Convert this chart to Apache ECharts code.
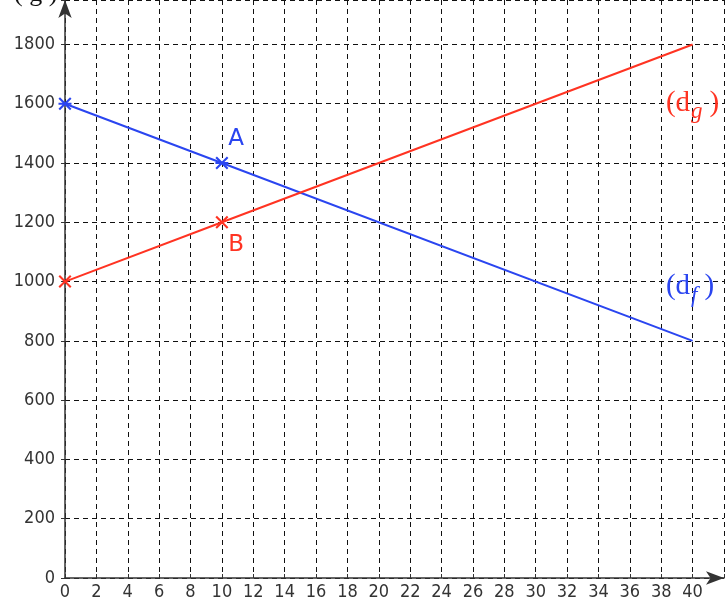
<!DOCTYPE html>
<html><head><meta charset="utf-8">
<script src="https://cdn.jsdelivr.net/npm/echarts@6/dist/echarts.min.js"></script>
<style>html,body{margin:0;padding:0;background:#fff}#c{width:727px;height:602px}</style>
</head><body><div id="c"></div>
<script>
// data
const xTicksMax = 40;
const yTicksMax = 1800;
const lineF = [[0, 1600], [10, 1400], [40, 800]];   // (d_f) blue
const lineG = [[0, 1000], [10, 1200], [40, 1800]];  // (d_g) red
const markedF = [true, true, false];
const markedG = [true, true, false];
const pointLabels = [
  {name: 'A', x: 10.9, y: 1480, color: '#2a45f0'},
  {name: 'B', x: 10.9, y: 1122, color: '#ff3322'}
];
const lineLabels = [
  {name: 'g', x: 38.3, y: 1601, color: '#ff3322'},
  {name: 'f', x: 38.3, y: 983, color: '#2a45f0'}
];
const yAxisTitle = '( g )';

const BLUE = '#2a45f0', RED = '#ff3322';
const xShape = 'path://M0.64,-0.64 L10.64,9.36 L9.36,10.64 L-0.64,0.64 Z M10.64,0.64 L0.64,10.64 L-0.64,9.36 L9.36,-0.64 Z';
const starShape = xShape + ' M-0.64,4.1 L10.64,4.1 L10.64,5.9 L-0.64,5.9 Z';
const LABEL_FONT = '"DejaVu Sans Condensed", "DejaVu Sans", sans-serif';

function mk(data, marked, sym) {
  return data.map((p, i) => ({value: p, symbol: marked[i] ? sym : 'none', symbolSize: 13}));
}

const chart = echarts.init(document.getElementById('c'));
chart.setOption({
  animation: false,
  grid: {left: 65, right: 0, top: 0, bottom: 24, containLabel: false},
  xAxis: {
    type: 'value', min: 0, max: 42, interval: 2,
    axisLine: {show: true, symbol: ['none', 'arrow'], symbolSize: [10, 18], lineStyle: {color: '#333', width: 1.5}},
    axisTick: {show: true, inside: true, length: 4, lineStyle: {color: '#333'}},
    axisLabel: {color: '#333', fontSize: 18, fontFamily: LABEL_FONT, margin: 5,
      formatter: v => (v <= xTicksMax ? String(v) : '')},
    splitLine: {show: true, lineStyle: {color: '#111', type: [5, 4], width: 1}}
  },
  yAxis: {
    type: 'value', min: 0, max: 1950, interval: 200,
    axisLine: {show: true, symbol: ['none', 'arrow'], symbolSize: [10, 18], lineStyle: {color: '#333', width: 1.5}},
    axisTick: {show: true, inside: false, length: 4, lineStyle: {color: '#333'}},
    axisLabel: {color: '#333', fontSize: 18, fontFamily: LABEL_FONT, margin: 10,
      formatter: v => (v <= yTicksMax && v % 200 === 0 ? String(v) : '')},
    splitLine: {show: true, lineStyle: {color: '#111', type: [5, 4], width: 1}}
  },
  graphic: [{
    type: 'text', left: 14, top: -19,
    style: {text: yAxisTitle, font: '26px "Liberation Serif"', fill: '#111'}
  }],
  series: [
    {type: 'line', data: mk(lineF, markedF, starShape), lineStyle: {color: BLUE, width: 2},
      itemStyle: {color: BLUE, opacity: 1}, z: 5},
    {type: 'line', data: mk(lineG, markedG, xShape), lineStyle: {color: RED, width: 2},
      itemStyle: {color: RED, opacity: 1}, z: 5},
    {type: 'scatter', symbolSize: 0, z: 6, itemStyle: {opacity: 1},
      data: pointLabels.map(p => ({value: [p.x, p.y], label: {show: true, position: 'inside',
        formatter: p.name, color: p.color, fontSize: 23, fontFamily: 'DejaVu Sans'}}))},
    {type: 'scatter', symbolSize: 0, z: 6, itemStyle: {opacity: 1},
      data: lineLabels.map(p => ({value: [p.x, p.y], label: {show: true, position: 'right', distance: 0,
        formatter: '{a|(d}{b|' + p.name + '}{a|)}',
        rich: {
          a: {color: p.color, fontSize: 29, fontFamily: 'Liberation Serif'},
          b: {color: p.color, fontSize: 23, fontFamily: 'Liberation Serif', fontStyle: 'italic', padding: [18, 7, 0, 1]}
        }}}))}
  ]
});
</script></body></html>
